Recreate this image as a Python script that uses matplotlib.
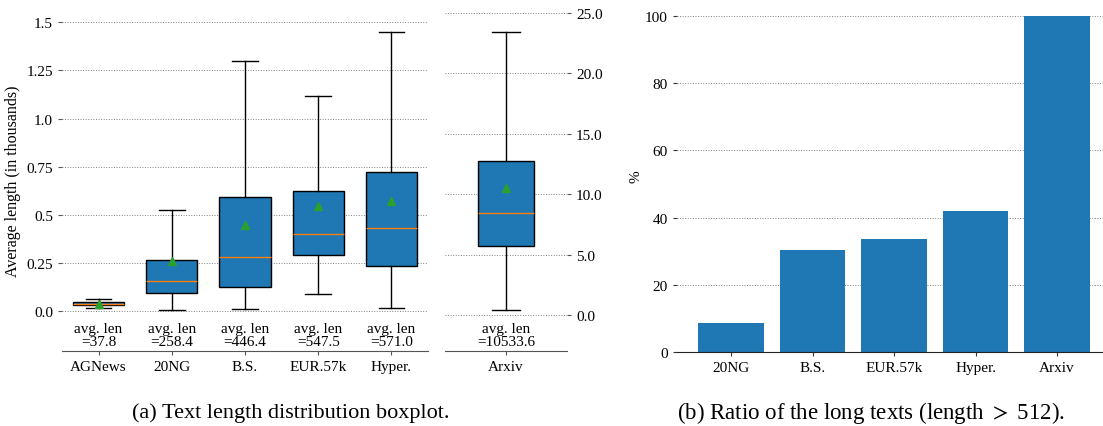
import numpy as np
import matplotlib.pyplot as plt
from matplotlib.ticker import FormatStrFormatter

plt.rcParams['font.family'] = ['Liberation Serif', 'DejaVu Serif']
plt.rcParams['font.size'] = 11
plt.rcParams['mathtext.fontset'] = 'stix'

# Text lengths in thousands
datasets = ['AGNews', '20NG', 'B.S.', 'EUR.57k', 'Hyper.']
whislo = [0.016, 0.005, 0.010, 0.087, 0.017]
q1 = [0.031, 0.092, 0.126, 0.291, 0.232]
med = [0.038, 0.154, 0.280, 0.398, 0.430]
q3 = [0.045, 0.265, 0.594, 0.622, 0.720]
whishi = [0.061, 0.523, 1.300, 1.117, 1.451]
avg_len = [37.8, 258.4, 446.4, 547.5, 571.0]

arxiv_name = 'Arxiv'
arxiv_whislo = 0.41
arxiv_q1 = 5.69
arxiv_med = 8.42
arxiv_q3 = 12.77
arxiv_whishi = 23.45
arxiv_avg_len = 10533.6

# Ratio of long texts (%)
long_names = ['20NG', 'B.S.', 'EUR.57k', 'Hyper.', 'Arxiv']
long_ratio = [8.7, 30.3, 33.6, 41.9, 100.0]

left_ticks = [0.0, 0.25, 0.5, 0.75, 1.0, 1.25, 1.5]
arxiv_ticks = [0.0, 5.0, 10.0, 15.0, 20.0, 25.0]

SPINE = '#555555'


def make_stats(lo, a, m, b, hi, mean, label):
    return dict(whislo=lo, q1=a, med=m, q3=b, whishi=hi, mean=mean, label=label, fliers=[])


def style_box_axes(ax):
    for side in ['left', 'right', 'top']:
        ax.spines[side].set_visible(False)
    ax.spines['bottom'].set_color(SPINE)
    ax.tick_params(axis='both', length=3, width=0.8, color=SPINE)
    ax.yaxis.grid(True, linestyle=':', color='gray', linewidth=0.7)
    ax.set_axisbelow(True)


fig = plt.figure(figsize=(11.03, 4.27), dpi=100)
W, H = 1103.0, 427.0

# (a) boxplots, short datasets
ax1 = fig.add_axes([62 / W, 1 - 352 / H, 366 / W, 342 / H])
stats = [make_stats(whislo[i], q1[i], med[i], q3[i], whishi[i], avg_len[i] / 1000, datasets[i])
         for i in range(len(datasets))]
ax1.bxp(stats, positions=np.arange(1, len(datasets) + 1), widths=0.7, patch_artist=True,
        showmeans=True, showfliers=False,
        boxprops=dict(facecolor='#1f77b4', edgecolor='black', linewidth=1.0))
ax1.set_xlim(0.5, len(datasets) + 0.5)
ax1.set_ylim(-0.208, 1.569)
ax1.set_yticks(left_ticks)
ax1.set_yticklabels([str(v) for v in left_ticks])
for i, v in enumerate(avg_len):
    ax1.text(i + 1, -0.124, f'avg. len\n={v}', ha='center', va='center', fontsize=11, linespacing=1.0)
ax1.set_ylabel('Average length (in thousands)', fontsize=11.5, labelpad=4)
style_box_axes(ax1)

# (a) boxplot, Arxiv on its own scale
ax2 = fig.add_axes([445 / W, 1 - 352 / H, 122 / W, 342 / H])
ax2.bxp([make_stats(arxiv_whislo, arxiv_q1, arxiv_med, arxiv_q3, arxiv_whishi,
                    arxiv_avg_len / 1000, arxiv_name)],
        positions=[1], widths=0.46, patch_artist=True, showmeans=True, showfliers=False,
        boxprops=dict(facecolor='#1f77b4', edgecolor='black', linewidth=1.0))
ax2.set_xlim(0.5, 1.5)
ax2.set_ylim(-2.98, 25.33)
ax2.set_yticks(arxiv_ticks)
ax2.yaxis.set_major_formatter(FormatStrFormatter('%.1f'))
ax2.yaxis.tick_right()
ax2.text(1, -1.64, f'avg. len\n={arxiv_avg_len}', ha='center', va='center', fontsize=11, linespacing=1.0)
style_box_axes(ax2)

# (b) long text ratio
ax3 = fig.add_axes([677 / W, 1 - 353.3 / H, 426 / W, 353.3 / H])
ax3.bar(long_names, long_ratio, width=0.8, color='#1f77b4')
ax3.set_xlim(-0.663, 4.564)
ax3.set_ylim(0, 105)
ax3.set_yticks([0, 20, 40, 60, 80, 100])
ax3.set_ylabel('%', fontsize=11, labelpad=2)
for side in ['left', 'right', 'top']:
    ax3.spines[side].set_visible(False)
ax3.spines['bottom'].set_color('#222222')
ax3.tick_params(axis='both', length=3, width=0.8, color='#333333')
ax3.yaxis.grid(True, linestyle=':', color='gray', linewidth=0.7)
ax3.set_axisbelow(True)

fig.text(291 / W, 1 - 413 / H, '(a) Text length distribution boxplot.', ha='center', va='center', fontsize=16)
fig.text(871 / W, 1 - 413 / H, '(b) Ratio of the long texts (length $>$ 512).', ha='center', va='center', fontsize=16.5)

fig.savefig('out.png', dpi=100)
